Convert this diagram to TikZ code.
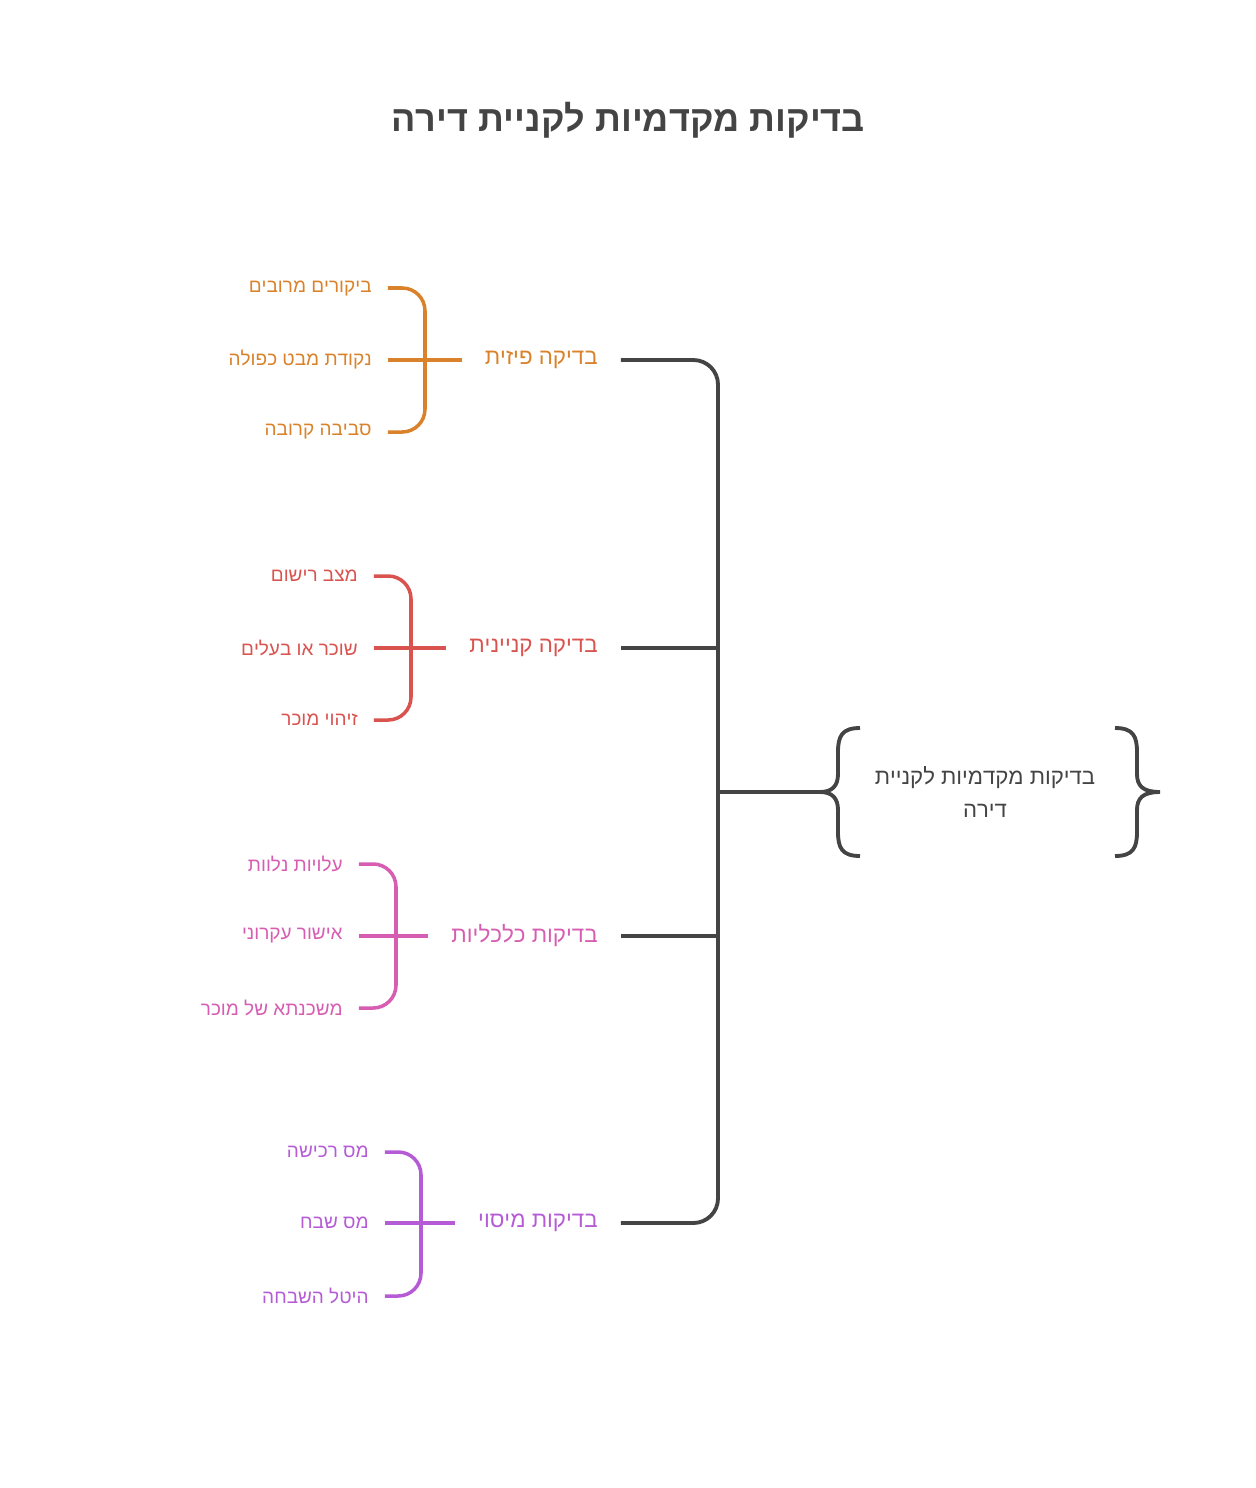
\documentclass[tikz,border=0pt]{standalone}
\usepackage{fontspec}
\setmainfont{Liberation Sans}
\usetikzlibrary{positioning}
\TeXXeTstate=1
\newcommand{\heb}[1]{\beginR #1\endR}
\definecolor{darkline}{HTML}{444444}
\definecolor{physc}{HTML}{D9822B}
\definecolor{legalc}{HTML}{D9534F}
\definecolor{finc}{HTML}{D65DB1}
\definecolor{taxc}{HTML}{B55BD6}
\tikzset{
  spine/.style={line width=2.2pt, draw=darkline, rounded corners=14},
  twig/.style={line width=2pt, rounded corners=13},
  cat/.style={anchor=east, font=\fontsize{12.7}{15}\selectfont, inner sep=0pt},
  item/.style={anchor=east, font=\fontsize{10.8}{13}\selectfont, inner sep=0pt},
}
\begin{document}
\begin{tikzpicture}[x=0.02cm, y=-0.02cm]
    \useasboundingbox (0,0) rectangle (1256,1488);

    % Title
    \node (title) at (628,120) [font=\bfseries\fontsize{20.5}{25}\selectfont, text=darkline] {\heb{בדיקות מקדמיות לקניית דירה}};

    % Root
    \node (root) at (985,792) [align=center, text=darkline, font=\fontsize{12.6}{19}\selectfont] {\heb{בדיקות מקדמיות לקניית}\\\heb{דירה}};
    \coordinate (hub) at (718,792);
    \coordinate (rootin) at (822,792);

    % Categories
    \node (phys) at (598,360) [cat, text=physc] {\heb{בדיקה פיזית}};
    \node (legal) at (598,648) [cat, text=legalc] {\heb{בדיקה קניינית}};
    \node (fin) at (598,936) [cat, text=finc] {\heb{בדיקות כלכליות}};
    \node (tax) at (598,1223) [cat, text=taxc] {\heb{בדיקות מיסוי}};

    % Items
    \node (p1) at (372,288) [item, text=physc] {\heb{ביקורים מרובים}};
    \node (p2) at (372,360) [item, text=physc] {\heb{נקודת מבט כפולה}};
    \node (p3) at (372,432) [item, text=physc] {\heb{סביבה קרובה}};
    \node (l1) at (358,576) [item, text=legalc] {\heb{מצב רישום}};
    \node (l2) at (358,648) [item, text=legalc] {\heb{שוכר או בעלים}};
    \node (l3) at (358,720) [item, text=legalc] {\heb{זיהוי מוכר}};
    \node (f1) at (343,864) [item, text=finc] {\heb{עלויות נלוות}};
    \node (f2) at (343,936) [item, text=finc] {\heb{אישור עקרוני}};
    \node (f3) at (343,1008) [item, text=finc] {\heb{משכנתא של מוכר}};
    \node (t1) at (369,1152) [item, text=taxc] {\heb{מס רכישה}};
    \node (t2) at (369,1223) [item, text=taxc] {\heb{מס שבח}};
    \node (t3) at (369,1296) [item, text=taxc] {\heb{היטל השבחה}};

    % Main spine
    \draw [spine] ([xshift=13pt]phys.east) -| (hub) |- ([xshift=13pt]tax.east);
    \draw [spine] ([xshift=13pt]legal.east) -- (718,648);
    \draw [spine] ([xshift=13pt]fin.east) -- (718,936);
    \draw [spine] (hub) -- (rootin);

    % Root braces
    \draw [line width=2.2pt, darkline] (860,728) .. controls (842,728) and (838,736) .. (838,752) -- (838,774)
        .. controls (838,786) and (832,792) .. (820,792) .. controls (832,792) and (838,798) .. (838,810)
        -- (838,832) .. controls (838,848) and (842,856) .. (860,856);
    \draw [line width=2.2pt, darkline] (1115,728) .. controls (1133,728) and (1137,736) .. (1137,752) -- (1137,774)
        .. controls (1137,786) and (1143,792) .. (1160,792) .. controls (1143,792) and (1137,798) .. (1137,810)
        -- (1137,832) .. controls (1137,848) and (1133,856) .. (1115,856);

    % Sub brackets
    \draw [twig, draw=physc] ([xshift=9pt]p1.east) -| (425,432) -- ([xshift=9pt]p3.east);
    \draw [twig, draw=physc] ([xshift=9pt]p2.east) -- ([xshift=-13pt]phys.west);
    \draw [twig, draw=legalc] ([xshift=9pt]l1.east) -| (411,720) -- ([xshift=9pt]l3.east);
    \draw [twig, draw=legalc] ([xshift=9pt]l2.east) -- ([xshift=-13pt]legal.west);
    \draw [twig, draw=finc] ([xshift=9pt]f1.east) -| (396,1008) -- ([xshift=9pt]f3.east);
    \draw [twig, draw=finc] ([xshift=9pt]f2.east) -- ([xshift=-13pt]fin.west);
    \draw [twig, draw=taxc] ([xshift=9pt]t1.east) -| (421,1296) -- ([xshift=9pt]t3.east);
    \draw [twig, draw=taxc] ([xshift=9pt]t2.east) -- ([xshift=-13pt]tax.west);
\end{tikzpicture}
\end{document}
